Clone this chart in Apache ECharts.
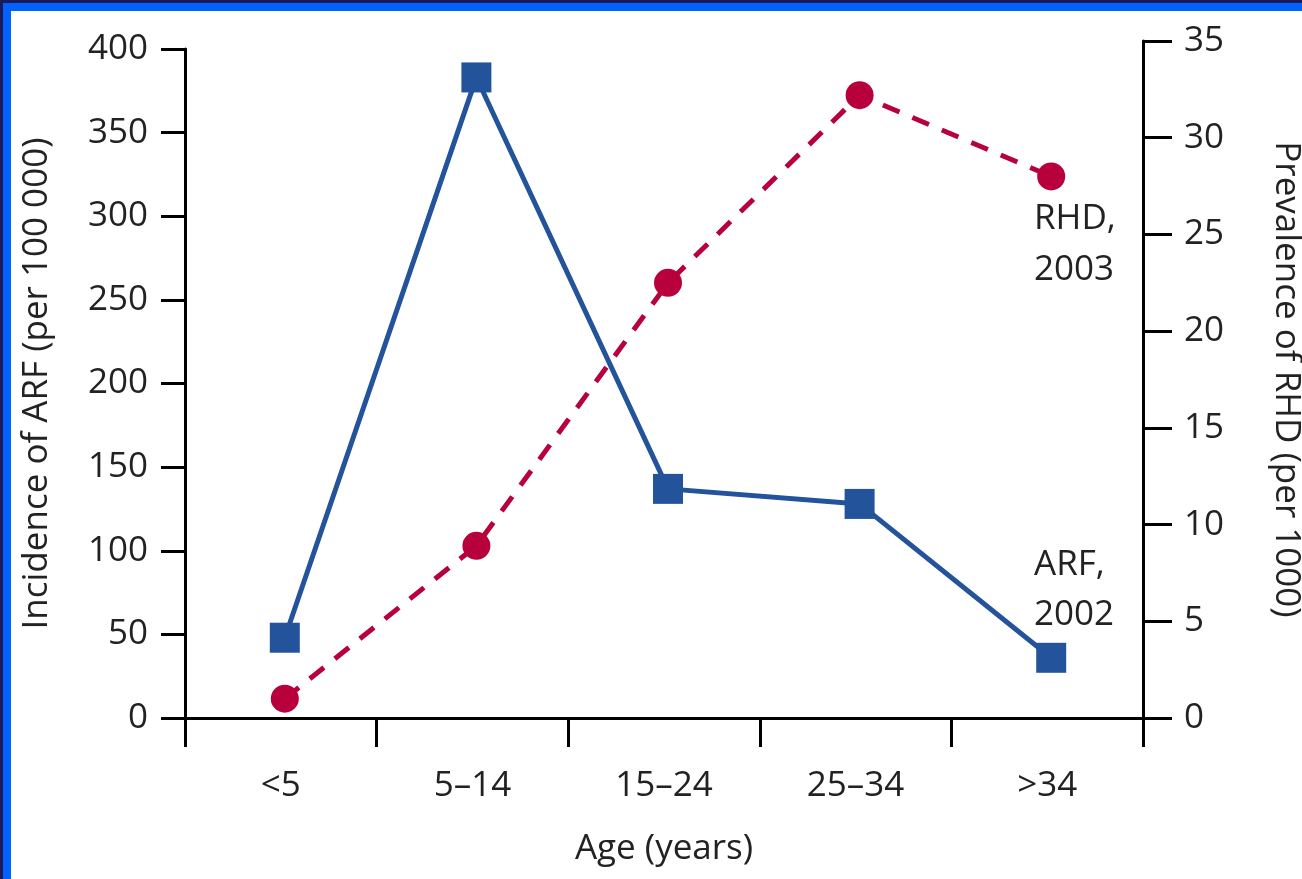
<!DOCTYPE html>
<html>
<head>
<meta charset="utf-8">
<script src="https://cdn.jsdelivr.net/npm/echarts@6/dist/echarts.min.js"></script>
<style>
html,body{margin:0;padding:0;background:#fff;}
#chart{width:1302px;height:879px;}
</style>
</head>
<body>
<div id="chart"></div>
<script>
const categories = ['<5', '5–14', '15–24', '25–34', '>34'];
const arfIncidence = [48, 383, 137, 128, 36];
const rhdPrevalence = [1.0, 8.9, 22.5, 32.2, 28.0];
const leftAxisRange = { min: 0, max: 400, interval: 50 };
const rightAxisRange = { min: 0, max: 35, interval: 5 };
const leftAxisName = 'Incidence of ARF (per 100 000)';
const rightAxisName = 'Prevalence of RHD (per 1000)';
const xAxisName = 'Age (years)';
const rhdNote = ['RHD,', '2003'];
const arfNote = ['ARF,', '2002'];

const FONT = 'Open Sans';
const FS = 35;
const TXT = '#222';
const BLUE = '#23539B';
const RED = '#B8003C';

const chart = echarts.init(document.getElementById('chart'), null, { renderer: 'canvas' });

const axisLineStyle = { color: '#000', width: 3 };

function noteText(x, y, t) {
  return { type: 'text', x: x, y: y, style: { text: t, font: FS + 'px "' + FONT + '"', fill: TXT, verticalAlign: 'middle', align: 'left' } };
}

const option = {
  animation: false,
  backgroundColor: '#fff',
  grid: [
    { left: 189, right: 155, top: 49, bottom: 161, outerBoundsMode: 'none', containLabel: false },
    { left: 189, right: 155, top: 41, bottom: 161, outerBoundsMode: 'none', containLabel: false },
    { left: 185, right: 159, top: 49, bottom: 161, outerBoundsMode: 'none', containLabel: false }
  ],
  xAxis: [
    { type: 'category', gridIndex: 0, data: categories, show: false },
    { type: 'category', gridIndex: 1, data: categories, show: false },
    {
      type: 'category', gridIndex: 2, data: categories, boundaryGap: true,
      axisLine: { show: true, lineStyle: axisLineStyle },
      axisTick: { show: true, length: 29, lineStyle: axisLineStyle, alignWithLabel: false },
      axisLabel: { color: TXT, fontFamily: FONT, fontSize: FS, margin: 51, interval: 0 },
      splitLine: { show: false },
      name: xAxisName, nameLocation: 'middle', nameGap: 114,
      nameTextStyle: { color: TXT, fontFamily: FONT, fontSize: FS }
    }
  ],
  yAxis: [
    {
      type: 'value', gridIndex: 0, position: 'left', offset: 4,
      min: leftAxisRange.min, max: leftAxisRange.max, interval: leftAxisRange.interval,
      axisLine: { show: true, lineStyle: axisLineStyle },
      axisTick: { show: true, length: 24, lineStyle: axisLineStyle },
      axisLabel: { color: TXT, fontFamily: FONT, fontSize: FS, margin: 37 },
      splitLine: { show: false },
      name: leftAxisName, nameLocation: 'middle', nameGap: 130, nameRotate: 90,
      nameTextStyle: { color: TXT, fontFamily: FONT, fontSize: FS }
    },
    {
      type: 'value', gridIndex: 1, position: 'right', offset: -4,
      min: rightAxisRange.min, max: rightAxisRange.max, interval: rightAxisRange.interval,
      axisLine: { show: true, lineStyle: axisLineStyle },
      axisTick: { show: true, length: 29, lineStyle: axisLineStyle },
      axisLabel: { color: TXT, fontFamily: FONT, fontSize: FS, margin: 41 },
      splitLine: { show: false },
      name: rightAxisName, nameLocation: 'middle', nameGap: 125, nameRotate: -90,
      nameTextStyle: { color: TXT, fontFamily: FONT, fontSize: FS }
    },
    { type: 'value', gridIndex: 2, min: 0, max: 400, show: false, splitLine: { show: false } }
  ],
  series: [
    {
      name: 'RHD, 2003', type: 'line', xAxisIndex: 1, yAxisIndex: 1, data: rhdPrevalence,
      symbol: 'circle', symbolSize: 28,
      lineStyle: { color: RED, width: 5, type: [18, 14] },
      itemStyle: { color: RED }, z: 3
    },
    {
      name: 'ARF, 2002', type: 'line', xAxisIndex: 0, yAxisIndex: 0, data: arfIncidence,
      symbol: 'rect', symbolSize: 30,
      lineStyle: { color: BLUE, width: 5 },
      itemStyle: { color: BLUE }, z: 4
    }
  ],
  graphic: [
    { type: 'rect', shape: { x: 0, y: 0, width: 1302, height: 3 }, style: { fill: '#1B1B5C' }, z: 100 },
    { type: 'rect', shape: { x: 0, y: 3, width: 1302, height: 8 }, style: { fill: '#0062FF' }, z: 100 },
    { type: 'rect', shape: { x: 0, y: 0, width: 3, height: 879 }, style: { fill: '#1B1B5C' }, z: 100 },
    { type: 'rect', shape: { x: 3, y: 3, width: 8, height: 876 }, style: { fill: '#0062FF' }, z: 100 },
    noteText(1034, 219, rhdNote[0]),
    noteText(1034, 270, rhdNote[1]),
    noteText(1034, 565, arfNote[0]),
    noteText(1034, 615, arfNote[1])
  ]
};
chart.setOption(option);
</script>
</body>
</html>
